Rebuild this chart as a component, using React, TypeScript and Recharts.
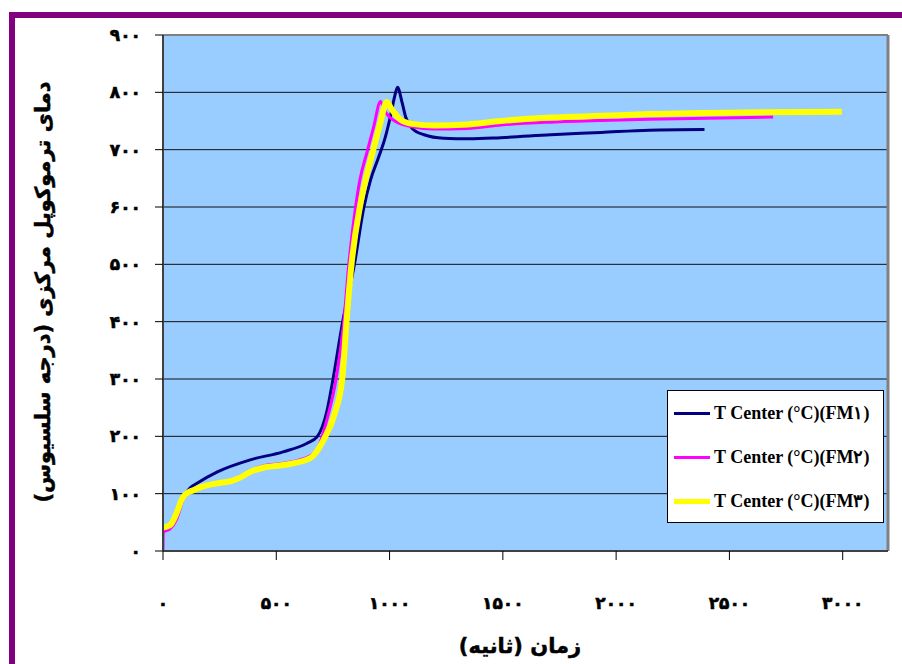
import { LineChart, Line, XAxis, YAxis, CartesianGrid, ReferenceLine, Label } from "recharts";

// زمان (ثانیه) و دمای ترموکوپل مرکزی برای هر نمونه
const fm1Time = [0, 30, 60, 90, 120, 150, 240, 385, 530, 636, 680, 724, 746, 793, 845, 887, 916, 950, 980, 1005, 1022, 1035, 1056, 1071, 1100, 1152, 1239, 1350, 1491, 1712, 1934, 2146, 2390];
const fm1Temp = [40, 45, 62, 95, 110, 118, 138, 159, 173, 188, 199, 245, 290, 400, 500, 600, 647, 685, 720, 760, 792, 809, 781, 757, 737, 726, 720, 719, 721, 726, 730, 734, 735];

const fm2Time = [0, 1, 30, 60, 90, 120, 150, 240, 300, 340, 385, 450, 532, 650, 680, 724, 764, 798, 820, 850, 869, 900, 930, 960, 975, 1000, 1049, 1100, 1195, 1344, 1491, 1712, 1934, 2146, 2400, 2693];
const fm2Temp = [0, 33, 38, 55, 90, 103, 108, 119, 123, 130, 140, 149, 153, 166, 176, 230, 300, 400, 500, 600, 647, 695, 740, 784, 770, 757, 745, 740, 736, 737, 743, 748, 751, 753, 755, 757];

const fm3Time = [0, 31, 60, 82, 97, 134, 164, 238, 300, 340, 385, 450, 532, 650, 709, 758, 791, 810, 832, 869, 894, 925, 958, 987, 1010, 1049, 1100, 1195, 1344, 1491, 1712, 1934, 2146, 2553, 2996];
const fm3Temp = [41, 45, 66, 89, 98, 106, 111, 118, 122, 128, 138, 146, 150, 162, 194, 240, 300, 400, 500, 600, 647, 695, 745, 783, 770, 752, 745, 742, 744, 750, 756, 759, 762, 765, 766];

const xTicks = [0, 500, 1000, 1500, 2000, 2500, 3000];
const yTicks = [0, 100, 200, 300, 400, 500, 600, 700, 800, 900];

const seriesNames = ["T Center (°C)(FM۱)", "T Center (°C)(FM۲)", "T Center (°C)(FM۳)"];
const seriesColors = ["#000080", "#FF00FF", "#FFFF00"];
const seriesWidths = [3, 3, 6];

const toRows = (time: number[], temp: number[]) => time.map((t, i) => ({ t, v: temp[i] }));
const fm1 = toRows(fm1Time, fm1Temp);
const fm2 = toRows(fm2Time, fm2Temp);
const fm3 = toRows(fm3Time, fm3Temp);

// ارقام فارسی برای برچسب‌ها
const toFa = (n: number) => String(n).replace(/\d/g, (d) => "۰۱۲۳۴۵۶۷۸۹"[+d]);

const faFont = "'DejaVu Sans', sans-serif";

export default function App() {
    const tickStyle = { fill: "#000", fontSize: 17, fontWeight: "bold", fontFamily: faFont, stroke: "#000", strokeWidth: 0.6 };
    const titleStyle = { fontFamily: faFont, fontWeight: "bold", fontSize: 21, fill: "#000", stroke: "#000", strokeWidth: 0.5 };

    return (
        <div style={{ position: "absolute", left: 0, top: 0, width: 902, height: 664, overflow: "hidden", background: "#fff" }}>
            <div
                style={{
                    position: "absolute",
                    left: 9,
                    top: 12,
                    width: 1000,
                    height: 1000,
                    border: "6px solid #800080",
                    boxSizing: "border-box",
                }}
            />
            <div style={{ position: "absolute", left: 0, top: 0 }}>
                <LineChart width={902} height={664} margin={{ top: 35, right: 14, bottom: 43, left: 103 }}>
                    <CartesianGrid vertical={false} fill="#99CCFF" stroke="#111" strokeWidth={1} />
                    <XAxis
                        dataKey="t"
                        type="number"
                        domain={[0, 3200]}
                        ticks={xTicks}
                        allowDataOverflow
                        height={70}
                        tickSize={9}
                        tickMargin={37}
                        tickFormatter={toFa}
                        tick={tickStyle}
                        stroke="#404040"
                        strokeWidth={2}
                        tickLine={{ stroke: "#000", strokeWidth: 1 }}
                    >
                        <Label
                            content={() => (
                                <text x={520} y={646} textAnchor="middle" dominantBaseline="central" direction="rtl" style={titleStyle}>
                                    زمان (ثانیه)
                                </text>
                            )}
                        />
                    </XAxis>
                    <YAxis
                        type="number"
                        domain={[0, 900]}
                        ticks={yTicks}
                        width={60}
                        tickSize={8}
                        tickMargin={14}
                        tickFormatter={toFa}
                        tick={tickStyle}
                        stroke="#404040"
                        strokeWidth={2}
                        tickLine={{ stroke: "#000", strokeWidth: 1 }}
                    >
                        <Label
                            content={() => (
                                <text x={43} y={292} transform="rotate(-90 43 292)" textAnchor="middle" dominantBaseline="central" direction="rtl" style={titleStyle}>
                                    دمای ترموکوپل مرکزی (درجه سلسیوس)
                                </text>
                            )}
                        />
                    </YAxis>
                    <ReferenceLine y={900} stroke="#808080" strokeWidth={2} />
                    <ReferenceLine x={3200} stroke="#808080" strokeWidth={3} />
                    <Line data={fm1} dataKey="v" name={seriesNames[0]} type="monotone" dot={false} stroke={seriesColors[0]} strokeWidth={seriesWidths[0]} isAnimationActive={false} />
                    <Line data={fm2} dataKey="v" name={seriesNames[1]} type="monotone" dot={false} stroke={seriesColors[1]} strokeWidth={seriesWidths[1]} isAnimationActive={false} />
                    <Line data={fm3} dataKey="v" name={seriesNames[2]} type="monotone" dot={false} stroke={seriesColors[2]} strokeWidth={seriesWidths[2]} isAnimationActive={false} />
                </LineChart>
            </div>
            {/* راهنمای نمودار */}
            <div
                style={{
                    position: "absolute",
                    left: 667,
                    top: 390,
                    width: 217,
                    height: 133,
                    boxSizing: "border-box",
                    border: "1px solid #000",
                    background: "#fff",
                }}
            >
                {seriesNames.map((name, i) => (
                    <div key={name} style={{ display: "flex", alignItems: "center", height: 44 }}>
                        <span style={{ display: "inline-block", marginLeft: 6, width: 36, height: seriesWidths[i] === 6 ? 5 : 3, background: seriesColors[i] }} />
                        <span style={{ marginLeft: 4, fontFamily: "'Liberation Serif', 'DejaVu Serif', serif", fontWeight: "bold", fontSize: 18, color: "#000", whiteSpace: "nowrap" }}>
                            {name}
                        </span>
                    </div>
                ))}
            </div>
        </div>
    );
}
